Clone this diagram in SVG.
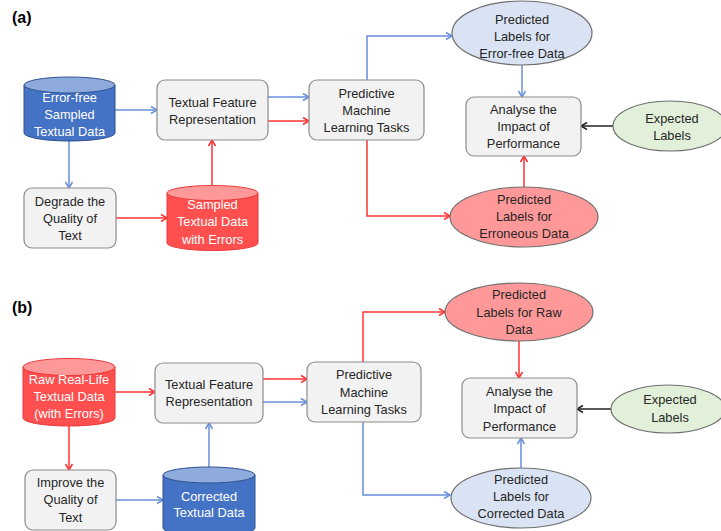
<svg xmlns="http://www.w3.org/2000/svg" width="721" height="531" viewBox="0 0 721 531">
<defs>
<style>
text{font-family:"Liberation Sans",Arial,sans-serif;font-size:12.8px;fill:#262626;text-anchor:middle}
.w{fill:#ffffff}
.lbl{font-size:16px;font-weight:bold;text-anchor:start;fill:#000}
.box{fill:#F2F2F2;stroke:#8C8C8C;stroke-width:1.2}
.eb{fill:#DAE3F3;stroke:#6F6F6F;stroke-width:1.2}
.er{fill:#FF9999;stroke:#6F6F6F;stroke-width:1.2}
.eg{fill:#E2F0D9;stroke:#6F6F6F;stroke-width:1.2}
.cb{fill:#4472C4;stroke:#2F528F;stroke-width:1}
.cbt{fill:#8FAADC;stroke:#2F528F;stroke-width:1}
.cr{fill:#FF4F4F;stroke:#E83A3A;stroke-width:1}
.crt{fill:#FF9999;stroke:#E83A3A;stroke-width:1}
.lb{fill:none;stroke:#6A8FDB;stroke-width:1.5}
.lr{fill:none;stroke:#FF3333;stroke-width:1.5}
.lk{fill:none;stroke:#222;stroke-width:1.5}
</style>
<marker id="ab" markerWidth="10" markerHeight="10" refX="8" refY="5" orient="auto" markerUnits="userSpaceOnUse"><path d="M2,1.5 L8,5 L2,8.5" fill="none" stroke="#6A8FDB" stroke-width="1.5"/></marker>
<marker id="ar" markerWidth="10" markerHeight="10" refX="8" refY="5" orient="auto" markerUnits="userSpaceOnUse"><path d="M2,1.5 L8,5 L2,8.5" fill="none" stroke="#FF3333" stroke-width="1.5"/></marker>
<marker id="ak" markerWidth="10" markerHeight="10" refX="8" refY="5" orient="auto" markerUnits="userSpaceOnUse"><path d="M2,1.5 L8,5 L2,8.5" fill="none" stroke="#222" stroke-width="1.5"/></marker>
</defs>
<rect width="721" height="531" fill="#ffffff"/>

<text class="lbl" x="12" y="23">(a)</text>
<text class="lbl" x="12" y="313">(b)</text>

<g id="connectors">
<!-- panel a -->
<line class="lb" x1="115" y1="110" x2="157" y2="110" marker-end="url(#ab)"/>
<line class="lb" x1="69" y1="141" x2="69" y2="188" marker-end="url(#ab)"/>
<line class="lr" x1="116" y1="218" x2="167" y2="218" marker-end="url(#ar)"/>
<line class="lr" x1="212" y1="186" x2="212" y2="140" marker-end="url(#ar)"/>
<line class="lb" x1="268" y1="97" x2="309" y2="97" marker-end="url(#ab)"/>
<line class="lr" x1="268" y1="121" x2="309" y2="121" marker-end="url(#ar)"/>
<polyline class="lb" points="367,80 367,36 452,36" marker-end="url(#ab)"/>
<line class="lb" x1="522" y1="65" x2="522" y2="97" marker-end="url(#ab)"/>
<line class="lk" x1="613" y1="126" x2="581" y2="126" marker-end="url(#ak)"/>
<polyline class="lr" points="367,140 367,216 450,216" marker-end="url(#ar)"/>
<line class="lr" x1="524" y1="187" x2="524" y2="156" marker-end="url(#ar)"/>
<!-- panel b -->
<line class="lr" x1="115" y1="392" x2="155" y2="392" marker-end="url(#ar)"/>
<line class="lr" x1="69" y1="426" x2="69" y2="470" marker-end="url(#ar)"/>
<line class="lb" x1="116" y1="500" x2="163" y2="500" marker-end="url(#ab)"/>
<line class="lb" x1="209" y1="468" x2="209" y2="423" marker-end="url(#ab)"/>
<line class="lr" x1="263" y1="379" x2="307" y2="379" marker-end="url(#ar)"/>
<line class="lb" x1="263" y1="402" x2="307" y2="402" marker-end="url(#ab)"/>
<polyline class="lr" points="363,362 363,312 445,312" marker-end="url(#ar)"/>
<line class="lr" x1="519" y1="341" x2="519" y2="378" marker-end="url(#ar)"/>
<line class="lk" x1="611" y1="409" x2="577" y2="409" marker-end="url(#ak)"/>
<polyline class="lb" points="363,422 363,495 450,495" marker-end="url(#ab)"/>
<line class="lb" x1="521" y1="468" x2="521" y2="438" marker-end="url(#ab)"/>
</g>

<!-- panel a nodes -->
<g id="a-errorfree">
<path class="cb" d="M24,85 L24,133 A45.5,8 0 0 0 115,133 L115,85 Z"/>
<ellipse class="cbt" cx="69.5" cy="85" rx="45.5" ry="8"/>
<text class="w" x="69.5" y="101.5">Error-free</text>
<text class="w" x="69.5" y="118.5">Sampled</text>
<text class="w" x="69.5" y="135.5">Textual Data</text>
</g>
<g id="a-tfr">
<rect class="box" x="157" y="80" width="111" height="60" rx="8"/>
<text x="212.5" y="106.5">Textual Feature</text>
<text x="212.5" y="123.5">Representation</text>
</g>
<g id="a-degrade">
<rect class="box" x="24" y="188" width="92" height="60" rx="8"/>
<text x="70" y="205.5">Degrade the</text>
<text x="70" y="222.5">Quality of</text>
<text x="70" y="239.5">Text</text>
</g>
<g id="a-sampled">
<path class="cr" d="M167,193 L167,243 A45.5,7.5 0 0 0 258,243 L258,193 Z"/>
<ellipse class="crt" cx="212.5" cy="193" rx="45.5" ry="7.5"/>
<text class="w" x="212.5" y="208.5">Sampled</text>
<text class="w" x="212.5" y="225.5">Textual Data</text>
<text class="w" x="212.5" y="243.5">with Errors</text>
</g>
<g id="a-pml">
<rect class="box" x="309" y="80" width="115" height="60" rx="8"/>
<text x="366.5" y="97.5">Predictive</text>
<text x="366.5" y="114.5">Machine</text>
<text x="366.5" y="131.5">Learning Tasks</text>
</g>
<g id="a-plef">
<ellipse class="eb" cx="522" cy="33" rx="70" ry="32"/>
<text x="522" y="23.5">Predicted</text>
<text x="522" y="41">Labels for</text>
<text x="522" y="57.5">Error-free Data</text>
</g>
<g id="a-analyse">
<rect class="box" x="466" y="97" width="115" height="59" rx="8"/>
<text x="523.5" y="113.5">Analyse the</text>
<text x="523.5" y="131">Impact of</text>
<text x="523.5" y="148">Performance</text>
</g>
<g id="a-expected">
<ellipse class="eg" cx="670" cy="126" rx="57" ry="25"/>
<text x="672" y="122.5">Expected</text>
<text x="672" y="139.5">Labels</text>
</g>
<g id="a-pler">
<ellipse class="er" cx="524" cy="217" rx="74" ry="30"/>
<text x="524" y="203.5">Predicted</text>
<text x="524" y="221">Labels for</text>
<text x="524" y="237.5">Erroneous Data</text>
</g>

<!-- panel b nodes -->
<g id="b-raw">
<path class="cr" d="M23,367 L23,418 A46,8 0 0 0 115,418 L115,367 Z"/>
<ellipse class="crt" cx="69" cy="367" rx="46" ry="8.5"/>
<text class="w" x="69" y="383.5">Raw Real-Life</text>
<text class="w" x="69" y="400.5">Textual Data</text>
<text class="w" x="69" y="417.5">(with Errors)</text>
</g>
<g id="b-tfr">
<rect class="box" x="155" y="363" width="108" height="60" rx="8"/>
<text x="209" y="388.5">Textual Feature</text>
<text x="209" y="405.5">Representation</text>
</g>
<g id="b-improve">
<rect class="box" x="25" y="470" width="91" height="60" rx="8"/>
<text x="70.5" y="486.5">Improve the</text>
<text x="70.5" y="504">Quality of</text>
<text x="70.5" y="521.5">Text</text>
</g>
<g id="b-corrected">
<path class="cb" d="M163,475 L163,528 A46,8 0 0 0 255,528 L255,475 Z"/>
<ellipse class="cbt" cx="209" cy="475" rx="46" ry="8"/>
<text class="w" x="209" y="500.5">Corrected</text>
<text class="w" x="209" y="516.5">Textual Data</text>
</g>
<g id="b-pml">
<rect class="box" x="307" y="362" width="114" height="60" rx="8"/>
<text x="364" y="378.5">Predictive</text>
<text x="364" y="396.5">Machine</text>
<text x="364" y="413.5">Learning Tasks</text>
</g>
<g id="b-plraw">
<ellipse class="er" cx="519" cy="312" rx="74" ry="29"/>
<text x="519" y="298.5">Predicted</text>
<text x="519" y="316.5">Labels for Raw</text>
<text x="519" y="333.5">Data</text>
</g>
<g id="b-analyse">
<rect class="box" x="462" y="378" width="115" height="60" rx="8"/>
<text x="519.5" y="395.5">Analyse the</text>
<text x="519.5" y="412.5">Impact of</text>
<text x="519.5" y="430.5">Performance</text>
</g>
<g id="b-expected">
<ellipse class="eg" cx="668" cy="409" rx="57" ry="24"/>
<text x="670" y="403.5">Expected</text>
<text x="670" y="421.5">Labels</text>
</g>
<g id="b-plcorr">
<ellipse class="eb" cx="521" cy="498" rx="70" ry="30"/>
<text x="521" y="483.5">Predicted</text>
<text x="521" y="500.5">Labels for</text>
<text x="521" y="517.5">Corrected Data</text>
</g>
</svg>
